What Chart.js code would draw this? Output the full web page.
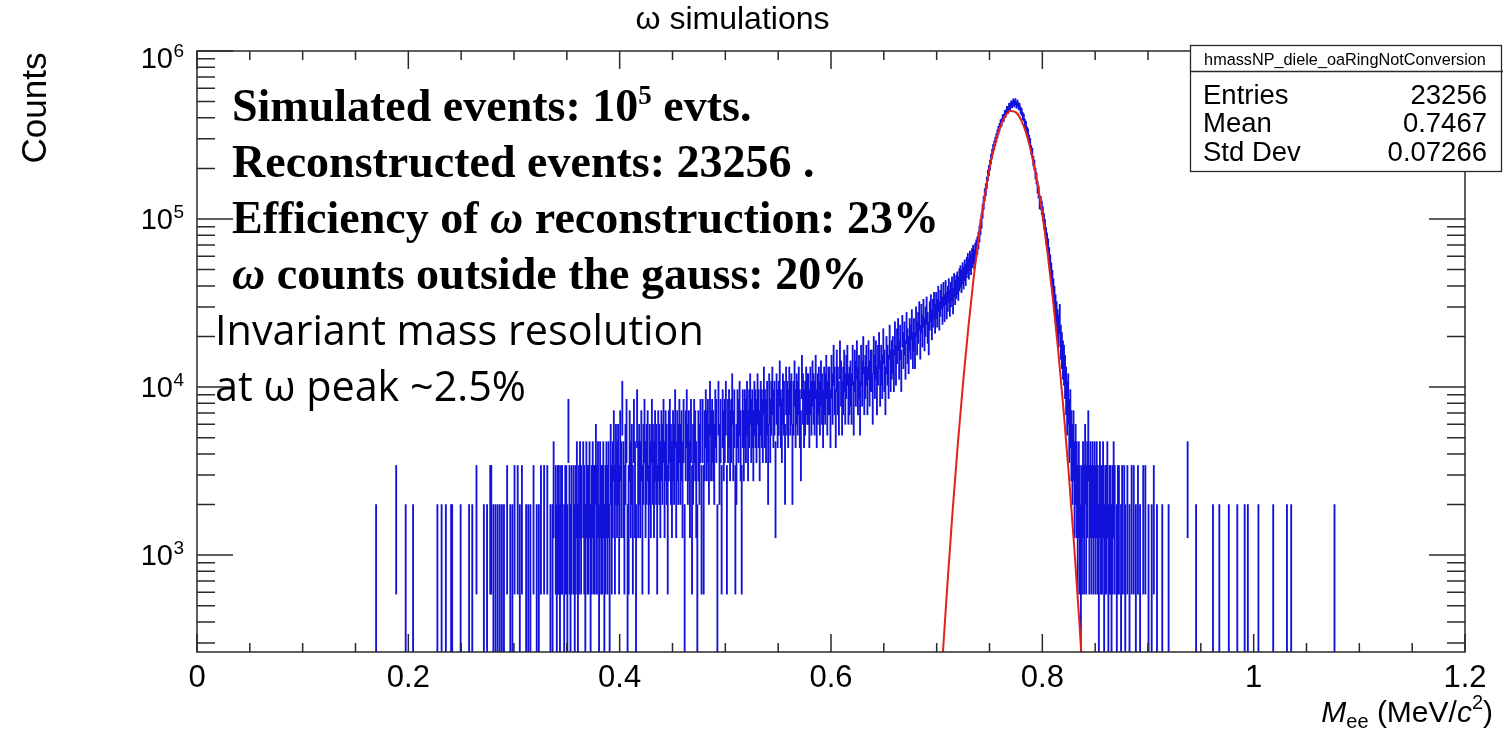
<!DOCTYPE html>
<html>
<head>
<meta charset="utf-8">
<script src="https://cdn.jsdelivr.net/npm/chart.js@4/dist/chart.umd.min.js"></script>
<style>
  html, body { margin: 0; padding: 0; background: #fff; }
  #wrap { width: 1503px; height: 740px; }
</style>
</head>
<body>
<div id="wrap"><canvas id="chart" width="1503" height="740"></canvas></div>
<script>
// histogram of M_ee, 1 MeV bins, every entry carries weight 1000
const entryWeight = 1000;

// sparse low-mass tail: bin (MeV) and entries
const lowTailBins = [169, 188, 197, 204, 227, 231, 235, 240, 241, 249,
  257, 260, 264, 271, 274, 277, 278, 280, 282, 284,
  286, 288, 290, 293, 296, 298, 300, 303, 305, 307,
  311, 313, 315, 318, 321, 323, 325, 328, 331, 334, 336, 337];
const lowTailCounts = [1, 2, 1, 1, 1, 1, 1, 1, 1, 1,
  1, 1, 2, 1, 1, 2, 2, 1, 1, 1,
  1, 1, 1, 2, 1, 1, 2, 2, 1, 2,
  1, 1, 1, 2, 1, 1, 2, 2, 2, 1, 1, 3];

// continuous part, one value per bin starting at 338 MeV
const coreStartMeV = 338;
const coreCounts = [
  0, 2, 1, 2, 2, 1, 2, 2, 0, 1, 2, 2, 1, 6, 2, 1, 2, 0, 2, 1,
  2, 3, 1, 2, 3, 2, 0, 3, 2, 1, 3, 2, 2, 3, 1, 2, 3, 2, 2, 4,
  2, 3, 1, 3, 2, 2, 3, 1, 2, 3, 2, 3, 1, 4, 2, 3, 5, 2, 4, 3,
  4, 2, 5, 3, 8, 3, 2, 4, 6, 1, 2, 5, 3, 4, 2, 6, 3, 1, 7, 3,
  4, 3, 5, 2, 4, 6, 3, 4, 5, 2, 4, 3, 6, 4, 3, 5, 4, 2, 5, 4,
  3, 5, 4, 6, 3, 5, 4, 2, 5, 6, 4, 3, 5, 4, 7, 3, 5, 4, 6, 4,
  5, 3, 6, 1, 5, 7, 4, 5, 3, 6, 2, 4, 6, 5, 3, 1, 5, 4, 6, 2,
  6, 2, 5, 7, 5, 6, 4, 8, 5, 6, 5, 4, 7, 6, 1, 8, 4, 6, 2, 7,
  5, 6, 8, 2, 6, 7, 5, 6, 9, 5, 7, 2, 4, 7, 6, 8, 5, 2, 7, 5,
  7, 6, 8, 5, 7, 9, 6, 7, 5, 8, 7, 6, 9, 7, 5, 8, 7, 6, 10, 7,
  6, 8, 4, 9, 6, 8, 10, 7, 8, 3, 9, 7, 8, 11, 7, 6, 9, 8, 4, 10,
  8, 7, 10, 8, 9, 4, 8, 11, 7, 9, 8, 10, 7, 5, 12, 9, 7, 8, 10, 9,
  9, 7, 10, 8, 11, 9, 8, 12, 7, 9, 10, 8, 11, 9, 7, 10, 9, 12, 8, 10,
  10, 7, 12, 9, 14, 10, 7, 13, 10, 8, 15, 11, 8, 10, 13, 9, 12, 14, 9, 10,
  11, 9, 14, 8, 13, 11, 15, 10, 12, 8, 14, 11, 16, 10, 12, 14, 10, 15, 11, 13,
  13, 9, 16, 12, 15, 10, 14, 17, 11, 14, 12, 18, 13, 10, 16, 14, 12, 19, 13, 15,
  16, 13, 20, 14, 18, 21, 15, 19, 13, 22, 17, 20, 15, 23, 18, 16, 21, 19, 24, 17,
  21, 17, 25, 20, 23, 27, 19, 26, 22, 28, 21, 25, 29, 23, 20, 27, 30, 24, 28, 31,
  26, 31, 28, 34, 27, 32, 35, 29, 36, 30, 37, 31, 34, 38, 32, 36, 39, 33, 41, 37,
  40, 42, 39, 44, 46, 43, 48, 45, 50, 47, 52, 55, 51, 57, 54, 59, 62, 58, 64, 67,
  70, 75, 82, 90, 98, 112, 125, 140, 150, 165, 182, 195, 210, 228, 245, 262, 275, 290, 305, 322,
  338, 352, 371, 376, 398, 401, 422, 426, 447, 445, 466, 468, 483, 481, 497, 486, 499, 478, 489, 470,
  466, 444, 434, 410, 402, 374, 363, 336, 326, 298, 285, 258, 248, 222, 210, 187, 175, 155, 145, 126,
  125, 117, 108, 98, 90, 80, 74, 68, 60, 54, 48, 43, 38, 34, 30, 27, 24, 22, 26, 19,
  17, 15, 14, 12, 10, 8, 9, 6, 7, 5, 4, 5, 3, 4, 3, 2, 3, 2, 1, 2,
  3, 2, 4, 2, 3, 5, 2, 3, 2, 3, 2, 3,
];

// sparse high-mass tail
const highTailBins = [850, 851, 852, 853, 854, 855, 856, 857, 858, 859,
  860, 861, 862, 863, 864, 865, 866, 867, 868,
  870, 871, 872, 874, 875, 877, 878, 880, 882, 884,
  886, 888, 890, 892, 895, 897, 900, 903, 905, 908,
  913, 919, 937, 945, 961, 967, 976, 984, 991, 994,
  1004, 1018, 1031, 1035, 1076];
const highTailCounts = [2, 3, 2, 1, 3, 2, 2, 3, 1, 2,
  2, 3, 1, 2, 2, 1, 2, 3, 2,
  1, 2, 2, 1, 2, 2, 1, 2, 1, 2,
  2, 1, 2, 1, 2, 2, 1, 1, 2, 1,
  1, 1, 3, 1, 1, 1, 1, 1, 1, 1,
  1, 1, 1, 1, 1];

// gaussian fit curve
const fitMass = [0.700, 0.705, 0.710, 0.715, 0.720, 0.725, 0.730, 0.735, 0.740, 0.745,
  0.750, 0.755, 0.760, 0.765, 0.770, 0.775, 0.780, 0.785, 0.790, 0.795,
  0.800, 0.805, 0.810, 0.815, 0.820, 0.825, 0.830, 0.835, 0.840, 0.845];
const fitCounts = [65, 215, 648, 1796, 4566, 10630, 22730, 44600, 80100, 132000,
  199600, 276900, 352200, 410800, 439500, 431200, 388000, 320200, 242400, 168200,
  107100, 62500, 33500, 16450, 7400, 3057, 1160, 403, 128, 36];

const yDecades = [3, 4, 5, 6];

const sansFont = '"Liberation Sans", Arial, sans-serif';
const serifFont = '"Liberation Serif", "Times New Roman", serif';
const textFont = '"Open Sans", "Noto Sans", sans-serif';

const bins = [];
lowTailBins.forEach((m, i) => bins.push([m, lowTailCounts[i]]));
coreCounts.forEach((n, i) => bins.push([coreStartMeV + i, n]));
highTailBins.forEach((m, i) => bins.push([m, highTailCounts[i]]));

// ROOT style error bars: n*w +- sqrt(n)*w
const histData = bins.filter(([, n]) => n > 0).map(([m, n]) => ({
  x: (m + 0.5) / 1000,
  y: [Math.max((n - Math.sqrt(n)) * entryWeight, 1), (n + Math.sqrt(n)) * entryWeight],
}));

function drawRuns(ctx, runs, x, baseline, align) {
  let total = 0;
  runs.forEach((r) => {
    ctx.font = r.font;
    r.w = ctx.measureText(r.text).width;
    total += r.w;
  });
  let cx = align === 'right' ? x - total : x;
  ctx.textAlign = 'left';
  runs.forEach((r) => {
    ctx.font = r.font;
    ctx.fillText(r.text, cx, baseline + (r.dy || 0));
    cx += r.w;
  });
}

const rootStyle = {
  id: 'rootStyle',
  afterDatasetsDraw(chart) {
    const { ctx, chartArea: a, scales: { x, y } } = chart;
    ctx.save();
    ctx.strokeStyle = '#2a2a2a';
    ctx.fillStyle = '#000';
    ctx.lineWidth = 1.5;

    // ticks on all four sides, pointing inwards
    ctx.beginPath();
    for (let k = 0; k <= 24; k++) {
      const px = x.getPixelForValue(k * 0.05);
      const len = k % 4 === 0 ? 18 : 9;
      ctx.moveTo(px, a.bottom); ctx.lineTo(px, a.bottom - len);
      ctx.moveTo(px, a.top); ctx.lineTo(px, a.top + len);
    }
    for (let d = 2; d <= 6; d++) {
      for (let k = 1; k <= 9; k++) {
        const v = k * 10 ** d;
        if (v < y.min || v > y.max) continue;
        const py = y.getPixelForValue(v);
        const len = k === 1 ? 36 : 18;
        ctx.moveTo(a.left, py); ctx.lineTo(a.left + len, py);
        ctx.moveTo(a.right, py); ctx.lineTo(a.right - len, py);
      }
    }
    ctx.stroke();
    ctx.strokeRect(a.left, a.top, a.right - a.left, a.bottom - a.top);

    // y tick labels 10^n
    yDecades.forEach((d) => {
      const py = y.getPixelForValue(10 ** d);
      const base = Math.max(py + 10, a.top + 17);
      ctx.font = `29px ${sansFont}`;
      ctx.textAlign = 'right';
      ctx.fillText('10', 173, base);
      ctx.font = `19px ${sansFont}`;
      ctx.textAlign = 'left';
      ctx.fillText(String(d), 173.5, base - 11);
    });

    // axis titles
    drawRuns(ctx, [
      { text: 'M', font: `italic 30px ${sansFont}` },
      { text: 'ee', font: `20px ${sansFont}`, dy: 6 },
      { text: ' (MeV/', font: `30px ${sansFont}` },
      { text: 'c', font: `italic 30px ${sansFont}` },
      { text: '2', font: `20px ${sansFont}`, dy: -13 },
      { text: ')', font: `30px ${sansFont}` },
    ], 1493, 722, 'right');

    ctx.save();
    ctx.translate(46, 108);
    ctx.rotate(-Math.PI / 2);
    ctx.font = `35px ${sansFont}`;
    ctx.textAlign = 'center';
    ctx.fillText('Counts', 0, 0);
    ctx.restore();

    // annotations
    const B = `bold 46px ${serifFont}`;
    const BI = `italic bold 46px ${serifFont}`;
    drawRuns(ctx, [
      { text: 'Simulated events: 10', font: B },
      { text: '5', font: `bold 27px ${serifFont}`, dy: -17 },
      { text: ' evts.', font: B },
    ], 232, 121);
    drawRuns(ctx, [{ text: 'Reconstructed events: 23256 .', font: B }], 232, 177);
    drawRuns(ctx, [
      { text: 'Efficiency of ', font: B },
      { text: 'ω', font: BI },
      { text: ' reconstruction: 23%', font: B },
    ], 232, 233);
    drawRuns(ctx, [
      { text: 'ω', font: BI },
      { text: ' counts outside the gauss: 20%', font: B },
    ], 232, 289);

    ctx.font = `40px ${textFont}`;
    const size = 40 * 489 / ctx.measureText('Invariant mass resolution').width;
    ctx.font = `${size}px ${textFont}`;
    ctx.textAlign = 'left';
    ctx.fillText('Invariant mass resolution', 215, 345);
    ctx.fillText('at ω peak ~2.5%', 215, 401);

    // stats box
    ctx.fillStyle = '#fff';
    ctx.fillRect(1190, 45, 313, 127);
    ctx.lineWidth = 1.3;
    ctx.strokeRect(1190.5, 45.5, 311, 126);
    ctx.beginPath();
    ctx.moveTo(1190, 71.5); ctx.lineTo(1503, 71.5);
    ctx.stroke();
    ctx.fillStyle = '#000';
    ctx.font = `16px ${sansFont}`;
    const hs = 16 * 282 / ctx.measureText('hmassNP_diele_oaRingNotConversion').width;
    ctx.font = `${hs}px ${sansFont}`;
    ctx.textAlign = 'center';
    ctx.fillText('hmassNP_diele_oaRingNotConversion', 1345, 64.5);
    ctx.font = `27.5px ${sansFont}`;
    [['Entries', '23256', 104], ['Mean', '0.7467', 132], ['Std Dev', '0.07266', 161]].forEach(([k, v, by]) => {
      ctx.textAlign = 'left';
      ctx.fillText(k, 1203, by);
      ctx.textAlign = 'right';
      ctx.fillText(v, 1487, by);
    });
    ctx.restore();
  },
};

new Chart(document.getElementById('chart'), {
  type: 'bar',
  data: {
    datasets: [
      {
        type: 'line',
        data: fitMass.map((m, i) => ({ x: m, y: fitCounts[i] })),
        borderColor: '#e3231b',
        borderWidth: 2,
        pointRadius: 0,
        cubicInterpolationMode: 'monotone',
        order: 0,
      },
      {
        type: 'bar',
        data: histData,
        backgroundColor: '#1212dc',
        borderWidth: 0,
        barThickness: 1.2,
        grouped: false,
        order: 1,
      },
    ],
  },
  options: {
    responsive: false,
    animation: false,
    devicePixelRatio: 1,
    events: [],
    layout: { padding: { right: 38 } },
    plugins: {
      legend: { display: false },
      tooltip: { enabled: false },
      title: {
        display: true,
        text: 'ω simulations',
        color: '#000',
        font: { family: sansFont, size: 32, weight: 'normal' },
        padding: { top: 1, bottom: 11.6 },
      },
    },
    scales: {
      x: {
        type: 'linear',
        min: 0,
        max: 1.2,
        offset: false,
        grid: { display: false, drawTicks: false },
        border: { display: false },
        ticks: {
          stepSize: 0.2,
          autoSkip: false,
          maxRotation: 0,
          padding: 8,
          color: '#000',
          font: { family: sansFont, size: 31 },
          callback: (v) => String(Number(v.toFixed(1))),
        },
        afterFit: (scale) => { scale.height = 88; },
      },
      y: {
        type: 'logarithmic',
        min: 265,
        max: 1e6,
        grid: { display: false, drawTicks: false },
        border: { display: false },
        ticks: { display: false },
        afterFit: (scale) => { scale.width = 197; },
      },
    },
  },
  plugins: [rootStyle],
});
</script>
</body>
</html>
